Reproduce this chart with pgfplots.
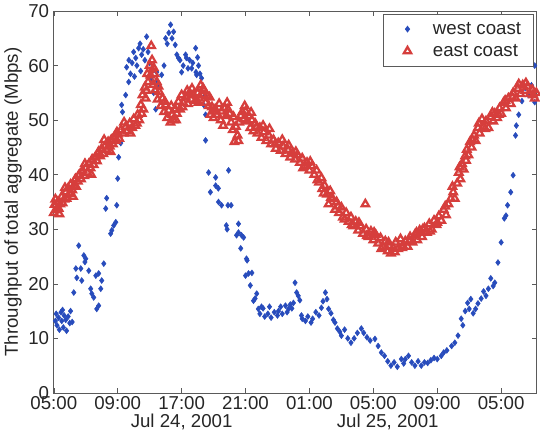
\documentclass[border=0pt]{standalone}
\usepackage{pgfplots}
\pgfplotsset{compat=1.18}
\usepackage{fontspec}
\setmainfont{Liberation Sans}
\definecolor{wblue}{RGB}{40,76,188}
\definecolor{ered}{RGB}{214,62,60}
\definecolor{axgray}{RGB}{90,90,90}
\begin{document}
\begin{tikzpicture}
\begin{axis}[
  scale only axis, width=362pt, height=286.5pt,
  xmin=0, xmax=30.2, ymin=0, ymax=70,
  xtick={0,4,...,28},
  xticklabels={05:00,09:00,17:00,21:00,01:00,05:00,09:00,05:00},
  ytick={0,10,...,70},
  tick align=inside, xtick pos=both, ytick pos=both,
  xticklabel pos=lower, yticklabel pos=left,
  major tick length=3.5pt,
  tick style={axgray, line width=0.4pt},
  axis line style={axgray, line width=0.5pt},
  font=\fontsize{14}{16}\selectfont,
  /pgf/number format/assume math mode=true,
  ylabel={Throughput of total aggregate (Mbps)},
  ylabel style={yshift=-2pt, text=black!85},
  ticklabel style={text=black!85},
  xticklabel style={yshift=1pt},
  clip=false,
  legend style={at={(rel axis cs:0.994,0.993)}, anchor=north east,
    draw=axgray, line width=0.5pt, inner xsep=7pt, inner ysep=4pt,
    font=\fontsize{14}{16}\selectfont, text=black!85,
    cells={anchor=west}, row sep=2pt},
  legend image code/.code={\path[draw=none,fill=none] (0,0) -- (1.0cm,0); \draw[#1] plot[only marks] coordinates {(0.4cm,0cm)};},
]
\addplot[only marks, mark=diamond*, mark size=2.2pt, color=wblue, fill=wblue] coordinates {
(0.1,13.2)(0.15,14.5)(0.2,12.4)(0.3,13.8)(0.35,11.6)(0.45,14.8)(0.5,13.2)(0.55,15.2)(0.6,12.0)(0.65,14.2)
(0.75,13.4)(0.8,11.4)(0.9,14.0)(1.0,12.8)(1.05,15.0)(1.15,13.0)
(1.25,18.4)(1.38,22.8)(1.44,21.1)(1.56,27.0)(1.69,22.8)(1.75,20.6)(1.88,25.2)(1.95,24.0)(2.0,24.6)(2.19,22.4)
(2.31,19.1)(2.38,18.2)(2.5,17.5)(2.63,21.5)(2.69,15.4)(2.81,16.0)(2.81,21.9)(2.94,19.1)(3.0,20.6)(3.13,23.7)
(3.25,33.8)(3.31,35.7)(3.56,29.2)(3.63,29.8)(3.75,30.7)(3.88,31.3)(3.94,34.4)(4.0,39.3)(4.06,43.2)(4.19,45.8)
(4.25,52.8)(4.3,51.5)(4.5,54.6)(4.56,59.7)(4.69,57.0)(4.7,61.0)(4.8,58.5)(4.9,60.5)(5.0,62.5)(5.05,58.0)
(5.13,61.4)(5.2,60.0)(5.31,63.2)(5.4,64.0)(5.44,59.0)(5.5,62.0)(5.6,63.0)(5.7,61.0)(5.81,65.3)(5.9,62.5)
(6.0,60.5)(6.1,57.5)(6.25,55.0)(6.38,52.0)(6.44,58.8)(6.5,57.0)(6.6,56.2)(6.75,58.3)(6.9,60.0)(7.0,65.0)
(7.1,64.0)(7.2,66.0)(7.31,67.5)(7.4,65.0)(7.5,66.2)(7.6,63.8)(7.7,62.0)(7.8,61.4)(7.9,61.0)(8.0,58.8)
(8.1,60.0)(8.25,62.0)(8.3,61.4)(8.4,59.5)(8.5,61.0)(8.63,59.5)(8.7,60.5)(8.88,63.2)(8.9,58.8)(8.94,58.3)
(9.0,61.5)(9.06,60.0)(9.15,58.5)(9.25,57.7)(9.38,52.8)(9.45,54.5)(9.5,51.0)(9.5,46.3)
(9.69,40.4)(9.8,36.8)(10.13,39.5)(10.13,38.0)(10.3,37.5)(10.31,35.0)(10.5,34.4)(10.8,30.7)(10.85,30.0)(10.94,40.8)
(10.9,34.4)(11.1,34.4)(11.44,28.9)(11.56,31.0)(11.56,29.4)(11.75,28.9)(11.7,26.5)(11.88,28.5)(12.0,21.5)(12.06,24.6)
(12.1,24.3)(12.19,21.9)(12.3,19.7)(12.4,22.0)(12.5,16.9)(12.6,17.3)(12.7,18.2)(12.8,15.4)
(12.9,14.5)(13.0,15.8)(13.1,15.5)(13.2,14.0)(13.4,14.5)(13.5,15.8)(13.6,13.8)(13.8,14.8)(14.0,14.2)(14.06,15.0)
(14.2,15.8)(14.3,14.5)(14.5,16.0)(14.6,14.8)(14.7,15.4)(14.8,16.2)(14.9,15.5)(15.0,16.5)(15.1,20.2)(15.2,18.4)
(15.3,17.8)(15.4,17.0)(15.5,14.2)(15.55,13.6)(15.75,13.2)(15.9,14.0)(16.1,12.9)(16.2,13.6)(16.4,14.8)(16.6,14.2)
(16.75,15.6)(16.85,16.8)(17.0,18.4)(17.1,17.2)(17.2,15.4)(17.35,14.6)(17.5,13.4)(17.6,12.9)(17.75,11.8)(17.9,11.2)
(18.0,10.5)(18.2,11.6)(18.4,10.0)(18.6,9.2)(18.8,10.0)(19.0,11.0)(19.25,11.8)(19.4,11.0)(19.6,10.2)(19.8,9.6)
(20.1,9.9)(20.3,8.6)(20.5,7.4)(20.7,6.8)(20.9,5.8)(21.1,5.0)(21.3,5.6)(21.5,4.8)(21.75,6.2)(21.9,5.4)
(22.0,6.2)(22.2,6.8)(22.4,5.6)(22.6,5.0)(22.8,5.8)(23.0,5.0)(23.2,5.6)(23.4,5.5)(23.6,6.0)(23.8,6.4)
(24.0,6.2)(24.25,6.8)(24.4,7.4)(24.6,7.8)(24.9,8.6)(25.1,9.2)(25.3,10.5)(25.5,13.6)(25.6,12.4)(25.75,15.0)
(25.9,16.5)(26.0,15.4)(26.1,17.2)(26.25,14.6)(26.4,15.4)(26.55,16.4)(26.75,17.3)(26.9,18.6)(27.05,17.8)(27.2,19.1)
(27.35,21.0)(27.5,19.6)(27.6,20.2)(27.8,23.9)(28.0,27.6)(28.2,32.0)(28.3,32.5)(28.4,34.4)(28.6,36.8)(28.75,39.9)
(28.9,47.2)(28.95,49.0)(29.1,51.0)(29.3,53.5)(29.5,55.9)(29.7,54.6)(29.9,56.4)(30.0,55.0)(30.1,53.3)(30.1,60.0)
};
\addlegendentry{west coast}
\addplot[only marks, mark=triangle, mark size=3.2pt, color=ered, line width=1.7pt] coordinates {
(0.0,33.0)(0.05,34.5)(0.15,33.5)(0.25,35.0)(0.3,33.8)(0.4,34.6)(0.5,36.0)(0.55,34.8)(0.65,35.5)(0.75,36.8)
(0.8,35.6)(0.9,37.5)(1.0,36.5)(1.05,38.2)(1.15,37.2)(1.25,38.0)(1.35,39.2)(1.4,37.8)(1.5,38.8)(1.6,40.0)
(1.7,39.2)(1.8,40.8)(1.9,39.8)(2.0,41.2)(2.1,40.4)(2.2,42.0)(2.3,41.2)(2.4,42.8)(2.5,41.8)(2.6,43.2)
(2.7,42.5)(2.8,44.2)(2.9,43.4)(3.0,44.8)(3.1,43.8)(3.2,45.2)(3.3,44.6)(3.4,46.0)(3.5,45.2)(3.6,46.4)
(3.7,45.6)(3.8,47.0)(3.9,46.2)(4.0,47.4)(4.1,46.6)(4.2,48.2)(4.35,47.6)(4.5,48.8)(4.6,48.0)(4.75,49.4)
(4.9,48.6)(5.0,50.2)(5.1,49.0)(5.25,51.0)(5.35,50.0)(5.45,52.8)(5.55,54.6)(5.6,52.0)(5.7,56.0)(5.75,54.0)
(5.85,58.5)(5.9,57.0)(6.0,60.0)(6.05,58.2)(6.1,63.6)(6.15,61.0)(6.2,56.5)(6.3,58.5)(6.35,55.5)(6.45,57.0)
(6.5,53.8)(6.6,55.2)(6.7,52.6)(6.8,54.0)(6.9,51.5)(7.0,52.8)(7.1,50.4)(7.2,51.8)(7.3,49.6)(7.4,51.0)
(7.5,50.0)(7.6,52.0)(7.7,51.2)(7.8,53.4)(7.9,52.0)(8.0,54.6)(8.1,53.2)(8.25,54.2)(8.4,53.0)(8.5,55.0)
(8.6,53.8)(8.75,54.6)(8.9,53.6)(9.0,55.0)(9.1,54.0)(9.2,56.4)(9.3,54.6)(9.4,55.4)(9.5,53.2)(9.6,54.4)
(9.7,52.6)(9.8,51.0)(9.9,52.4)(10.0,50.4)(10.1,52.0)(10.2,51.0)(10.35,53.0)(10.5,51.6)(10.6,49.0)(10.7,52.2)
(10.8,50.8)(10.9,52.0)(11.0,51.2)(11.1,49.6)(11.2,48.2)(11.3,46.0)(11.4,48.8)(11.5,47.2)(11.6,49.6)(11.7,50.8)
(11.8,51.5)(11.9,50.2)(12.0,51.6)(12.1,49.8)(12.2,50.8)(12.3,48.6)(12.4,50.0)(12.5,48.0)(12.6,49.4)(12.75,47.6)
(12.9,48.6)(13.0,46.8)(13.15,47.8)(13.3,46.2)(13.45,47.2)(13.6,45.6)(13.75,46.4)(13.9,44.8)(14.05,45.8)(14.2,44.4)
(14.35,45.2)(14.5,43.8)(14.65,44.6)(14.8,43.2)(14.95,44.0)(15.1,42.8)(15.25,43.6)(15.4,42.2)(15.55,43.0)(15.7,41.6)
(15.85,42.2)(16.0,40.8)(16.15,41.6)(16.3,40.0)(16.45,40.8)(16.6,38.6)(16.75,39.4)(16.8,37.4)(16.95,38.0)(17.1,36.4)
(17.2,34.6)(17.3,37.0)(17.45,35.6)(17.6,33.6)(17.7,35.0)(17.85,33.0)(18.0,34.0)(18.1,32.2)(18.3,33.0)(18.45,31.4)
(18.6,32.2)(18.75,30.6)(18.9,31.4)(19.05,29.8)(19.2,30.6)(19.35,29.2)(19.5,34.6)(19.55,30.0)(19.7,28.6)(19.85,29.6)
(20.0,28.0)(20.15,29.0)(20.3,27.4)(20.45,28.4)(20.6,26.8)(20.75,27.8)(20.9,26.0)(21.0,27.0)(21.1,25.6)(21.25,26.6)
(21.4,27.6)(21.55,26.4)(21.7,28.2)(21.85,27.0)(22.0,27.8)(22.15,26.8)(22.3,28.6)(22.45,27.6)(22.6,29.0)(22.75,28.0)
(22.9,29.8)(23.05,28.6)(23.2,30.2)(23.35,29.4)(23.5,31.0)(23.65,30.0)(23.8,31.6)(23.95,30.8)(24.1,32.4)(24.25,31.6)
(24.4,33.6)(24.55,32.6)(24.7,34.6)(24.85,35.6)(25.0,36.8)(25.1,35.6)(25.25,38.4)(25.35,40.4)(25.45,39.2)(25.55,42.0)
(25.65,41.0)(25.75,43.4)(25.85,44.6)(25.95,43.6)(26.05,46.0)(26.15,45.0)(26.3,47.2)(26.4,46.2)(26.55,48.6)(26.65,47.6)
(26.8,50.2)(26.9,48.8)(27.05,49.8)(27.2,48.6)(27.35,50.6)(27.5,49.8)(27.6,51.2)(27.75,50.4)(27.9,52.2)(28.0,51.2)
(28.15,53.2)(28.3,52.2)(28.45,54.0)(28.6,53.0)(28.75,55.0)(28.9,54.0)(29.05,55.8)(29.2,54.8)(29.35,56.4)(29.5,55.4)
(29.65,56.2)(29.8,54.8)(29.95,55.6)(30.1,54.0)(30.2,55.0)
(0.1,35.5)(0.35,32.8)(0.7,37.6)(1.2,36.0)(1.55,39.8)(1.95,42.0)(2.35,40.0)(2.75,43.8)(3.15,46.4)(3.55,44.2)
(3.95,47.8)(4.4,49.6)(4.8,47.6)(5.2,49.4)(5.5,51.2)(5.8,55.4)(6.25,59.6)(6.55,56.2)(6.95,53.4)(7.35,52.6)
(7.65,50.0)(8.05,52.4)(8.35,55.4)(8.65,55.8)(9.05,53.2)(9.35,55.8)(9.75,54.2)(10.05,51.6)(10.45,50.0)(10.85,53.2)
(11.25,50.6)(11.55,46.2)(11.95,52.6)(12.35,51.4)(12.7,48.8)(13.1,49.0)(13.5,48.4)(13.85,45.6)(14.3,46.4)(14.7,45.4)
(15.15,44.2)(15.6,41.2)(16.05,42.4)(16.5,39.0)(16.9,36.6)(17.35,35.8)(17.8,34.2)(18.2,31.8)(18.65,30.8)(19.1,31.2)
(19.6,28.8)(20.05,29.4)(20.5,26.4)(20.95,27.6)(21.35,25.8)(21.8,26.6)(22.25,27.8)(22.7,29.4)(23.1,30.0)(23.55,29.6)
(24.0,31.2)(24.5,34.2)(24.95,37.8)(25.4,41.4)(25.8,42.6)(26.2,46.4)(26.6,49.4)(27.0,48.4)(27.45,51.4)(27.85,51.0)
(28.25,53.6)(28.7,54.2)(29.1,56.6)(29.55,56.8)(30.0,54.6)
};
\addlegendentry{east coast}
\node[anchor=base, yshift=-26pt, text=black!85] at (axis cs:8,0) {Jul 24, 2001};
\node[anchor=base, yshift=-26pt, text=black!85] at (axis cs:20.9,0) {Jul 25, 2001};
\end{axis}
\end{tikzpicture}
\end{document}
